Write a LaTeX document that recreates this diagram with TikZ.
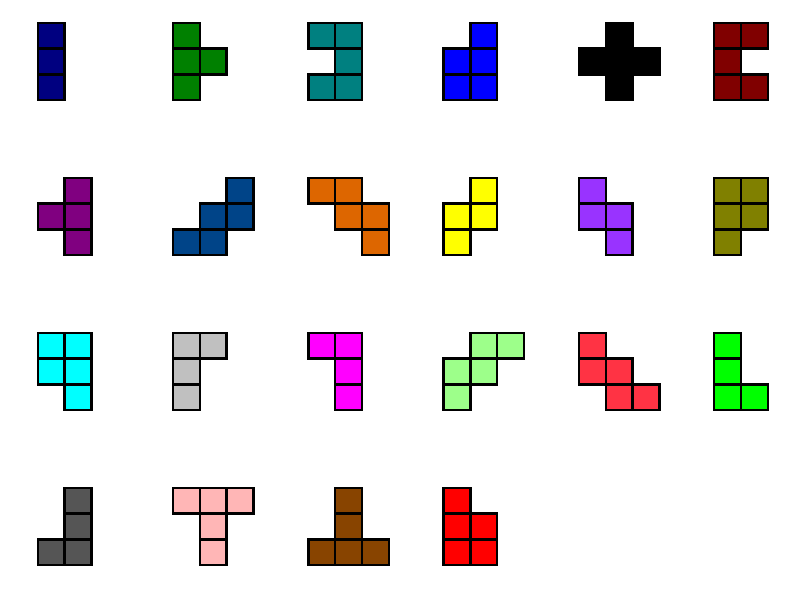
\documentclass[tikz,border=0pt]{standalone}
\usepackage{tikz}
\definecolor{cNavy}{HTML}{000080}
\definecolor{cGreen}{HTML}{008000}
\definecolor{cTeal}{HTML}{008080}
\definecolor{cBlue}{HTML}{0000FF}
\definecolor{cBlack}{HTML}{000000}
\definecolor{cMaroon}{HTML}{800000}
\definecolor{cPurple}{HTML}{800080}
\definecolor{cDeepBlue}{HTML}{004488}
\definecolor{cOrange}{HTML}{DD6600}
\definecolor{cYellow}{HTML}{FFFF00}
\definecolor{cViolet}{HTML}{9933FF}
\definecolor{cOlive}{HTML}{808000}
\definecolor{cCyan}{HTML}{00FFFF}
\definecolor{cSilver}{HTML}{C0C0C0}
\definecolor{cMagenta}{HTML}{FF00FF}
\definecolor{cLightGreen}{HTML}{9DFF8A}
\definecolor{cCrimson}{HTML}{FF3344}
\definecolor{cLime}{HTML}{00FF00}
\definecolor{cDarkGray}{HTML}{555555}
\definecolor{cPink}{HTML}{FFB6B6}
\definecolor{cBrown}{HTML}{884400}
\definecolor{cRed}{HTML}{FF0000}
\tikzset{cellbox/.style={draw=black, line width=2.4pt, line join=miter}}
\newcommand{\cw}{26.8}
\newcommand{\ch}{25.8}
% \polypiece{col}{row}{colour}{cell list}
\newcommand{\polypiece}[4]{%
  \pgfmathsetmacro{\ox}{37.7+135.3*#1}%
  \pgfmathsetmacro{\oy}{22.7+155*#2}%
  \foreach \cx/\cy in {#4} {%
    \fill[#3] (\ox+\cw*\cx,\oy+\ch*\cy) rectangle ++(\cw,\ch);
  }%
  \foreach \cx/\cy in {#4} {%
    \draw[cellbox] (\ox+\cw*\cx,\oy+\ch*\cy) rectangle ++(\cw,\ch);
  }%
}
\begin{document}
\begin{tikzpicture}[x=1pt,y=-1pt]
\useasboundingbox[fill=white] (0,0) rectangle (800,600);
% row 1
\polypiece{0}{0}{cNavy}{0/0,0/1,0/2}
\polypiece{1}{0}{cGreen}{0/0,0/1,1/1,0/2}
\polypiece{2}{0}{cTeal}{0/0,1/0,1/1,0/2,1/2}
\polypiece{3}{0}{cBlue}{1/0,0/1,1/1,0/2,1/2}
\polypiece{4}{0}{cBlack}{1/0,0/1,1/1,2/1,1/2}
\polypiece{5}{0}{cMaroon}{0/0,1/0,0/1,0/2,1/2}
% row 2
\polypiece{0}{1}{cPurple}{1/0,0/1,1/1,1/2}
\polypiece{1}{1}{cDeepBlue}{2/0,1/1,2/1,0/2,1/2}
\polypiece{2}{1}{cOrange}{0/0,1/0,1/1,2/1,2/2}
\polypiece{3}{1}{cYellow}{1/0,0/1,1/1,0/2}
\polypiece{4}{1}{cViolet}{0/0,0/1,1/1,1/2}
\polypiece{5}{1}{cOlive}{0/0,1/0,0/1,1/1,0/2}
% row 3
\polypiece{0}{2}{cCyan}{0/0,1/0,0/1,1/1,1/2}
\polypiece{1}{2}{cSilver}{0/0,1/0,0/1,0/2}
\polypiece{2}{2}{cMagenta}{0/0,1/0,1/1,1/2}
\polypiece{3}{2}{cLightGreen}{1/0,2/0,0/1,1/1,0/2}
\polypiece{4}{2}{cCrimson}{0/0,0/1,1/1,1/2,2/2}
\polypiece{5}{2}{cLime}{0/0,0/1,0/2,1/2}
% row 4
\polypiece{0}{3}{cDarkGray}{1/0,1/1,0/2,1/2}
\polypiece{1}{3}{cPink}{0/0,1/0,2/0,1/1,1/2}
\polypiece{2}{3}{cBrown}{1/0,1/1,0/2,1/2,2/2}
\polypiece{3}{3}{cRed}{0/0,0/1,1/1,0/2,1/2}
\end{tikzpicture}
\end{document}
